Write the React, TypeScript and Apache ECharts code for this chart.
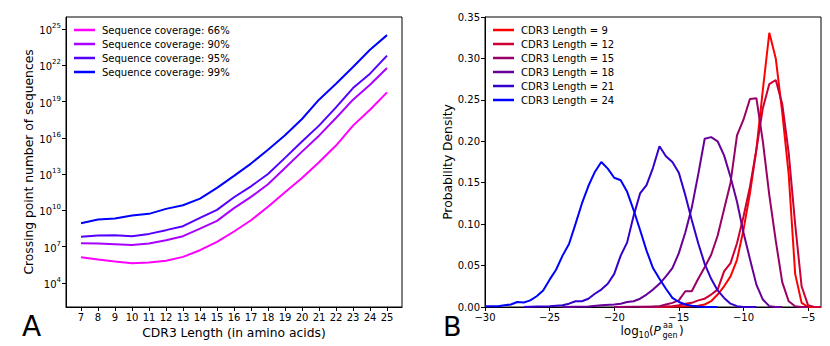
import React, { useEffect, useRef } from "react";
import * as echarts from "echarts";

// ---------- Panel A data (log10 of crossing point number of sequences) ----------
const cdr3Lengths = [7, 8, 9, 10, 11, 12, 13, 14, 15, 16, 17, 18, 19, 20, 21, 22, 23, 24, 25];
const log10Cov66 = [6.12, 5.93, 5.77, 5.63, 5.68, 5.82, 6.15, 6.7, 7.39, 8.25, 9.18, 10.29, 11.5, 12.68, 13.98, 15.36, 17.01, 18.33, 19.76];
const log10Cov90 = [7.28, 7.25, 7.2, 7.14, 7.25, 7.53, 7.86, 8.49, 9.13, 10.18, 11.11, 12.16, 13.51, 14.86, 16.18, 17.64, 19.16, 20.4, 21.78];
const log10Cov95 = [7.81, 7.92, 7.94, 7.86, 8.05, 8.36, 8.69, 9.38, 10.04, 11.08, 11.99, 13.01, 14.34, 15.69, 17.01, 18.52, 20.12, 21.31, 22.8];
const log10Cov99 = [8.93, 9.24, 9.32, 9.57, 9.71, 10.12, 10.42, 10.97, 11.86, 12.85, 13.87, 15.02, 16.21, 17.56, 19.16, 20.48, 21.86, 23.29, 24.5];
const coverageLabels = ["Sequence coverage: 66%", "Sequence coverage: 90%", "Sequence coverage: 95%", "Sequence coverage: 99%"];
const coverageColors = ["#ff00ff", "#aa00ff", "#5500ff", "#0000ff"];
const exponentTicks = [4, 7, 10, 13, 16, 19, 22, 25];

// ---------- Panel B data: [log10(Pgen), density] ----------
const len9 = [[-17, 0], [-15, 0.0005], [-14.5, 0.0008], [-14, 0.001], [-13.5, 0.0015], [-13, 0.003], [-12.5, 0.007], [-12, 0.015], [-11.5, 0.025], [-11, 0.037], [-10.5, 0.057], [-10, 0.093], [-9.5, 0.137], [-9, 0.19], [-8.5, 0.262], [-8, 0.331], [-7.5, 0.3], [-7, 0.235], [-6.5, 0.16], [-6, 0.04], [-5.5, 0.005], [-5, 0], [-4, 0]];
const len12 = [[-18, 0], [-16, 0.0005], [-15.5, 0.001], [-15, 0.002], [-14.5, 0.004], [-14, 0.005], [-13.5, 0.008], [-13, 0.01], [-12.5, 0.015], [-12, 0.021], [-11.5, 0.043], [-11, 0.053], [-10.5, 0.077], [-10, 0.109], [-9.5, 0.145], [-9, 0.19], [-8.5, 0.24], [-8, 0.269], [-7.5, 0.274], [-7, 0.245], [-6.5, 0.186], [-6, 0.1], [-5.5, 0.025], [-5, 0.002], [-4.5, 0], [-4, 0]];
const len15 = [[-20, 0], [-17, 0.0005], [-16.5, 0.001], [-16, 0.003], [-15.5, 0.005], [-15, 0.008], [-14.5, 0.019], [-14, 0.019], [-13.5, 0.034], [-13, 0.048], [-12.5, 0.063], [-12, 0.086], [-11.5, 0.118], [-11, 0.15], [-10.5, 0.207], [-10, 0.226], [-9.5, 0.251], [-9, 0.252], [-8.5, 0.2], [-8, 0.135], [-7.5, 0.08], [-7, 0.03], [-6.5, 0.007], [-6, 0.001], [-5.5, 0], [-5, 0]];
const len18 = [[-24, 0], [-22, 0.0005], [-21, 0.002], [-20, 0.003], [-19.5, 0.004], [-19, 0.006], [-18.5, 0.007], [-18, 0.01], [-17.5, 0.015], [-17, 0.021], [-16.5, 0.028], [-16, 0.037], [-15.5, 0.047], [-15, 0.065], [-14.5, 0.09], [-14, 0.12], [-13.5, 0.16], [-13, 0.203], [-12.5, 0.205], [-12, 0.2], [-11.5, 0.183], [-11, 0.157], [-10.5, 0.127], [-10, 0.09], [-9.5, 0.058], [-9, 0.027], [-8.5, 0.009], [-8, 0.001], [-7.5, 0], [-7, 0]];
const len21 = [[-27, 0], [-26, 0.0005], [-25, 0.001], [-24.5, 0.0015], [-24, 0.002], [-23.5, 0.004], [-23, 0.007], [-22.5, 0.007], [-22, 0.01], [-21.5, 0.016], [-21, 0.021], [-20.5, 0.028], [-20, 0.04], [-19.5, 0.062], [-19, 0.078], [-18.5, 0.11], [-18, 0.137], [-17.5, 0.147], [-17, 0.168], [-16.5, 0.194], [-16, 0.182], [-15.5, 0.175], [-15, 0.162], [-14.5, 0.135], [-14, 0.105], [-13.5, 0.077], [-13, 0.052], [-12.5, 0.034], [-12, 0.02], [-11.5, 0.011], [-11, 0.004], [-10.5, 0.001], [-10, 0], [-9, 0]];
const len24 = [[-30, 0.001], [-29.5, 0.001], [-29, 0.001], [-28.5, 0.002], [-28, 0.003], [-27.5, 0.006], [-27, 0.0055], [-26.5, 0.008], [-26, 0.013], [-25.5, 0.02], [-25, 0.033], [-24.5, 0.045], [-24, 0.062], [-23.5, 0.076], [-23, 0.1], [-22.5, 0.125], [-22, 0.146], [-21.5, 0.163], [-21, 0.175], [-20.5, 0.167], [-20, 0.156], [-19.5, 0.153], [-19, 0.139], [-18.5, 0.117], [-18, 0.093], [-17.5, 0.068], [-17, 0.047], [-16.5, 0.034], [-16, 0.022], [-15.5, 0.011], [-15, 0.006], [-14.5, 0.003], [-14, 0.0015], [-13.5, 0.0005], [-13, 0], [-12, 0]];
const lengthLabels = ["CDR3 Length = 9", "CDR3 Length = 12", "CDR3 Length = 15", "CDR3 Length = 18", "CDR3 Length = 21", "CDR3 Length = 24"];
const lengthColors = ["#ff0000", "#cc0033", "#990066", "#660099", "#3300cc", "#0000ff"];
const pgenTicks = [-30, -25, -20, -15, -10, -5];

const FONT = "DejaVu Sans";

export default function App() {
  const ref = useRef<HTMLDivElement>(null);
  useEffect(() => {
    if (!ref.current) return;
    const chart = echarts.init(ref.current, undefined, { renderer: "svg" });
    const covSeries = [log10Cov66, log10Cov90, log10Cov95, log10Cov99];
    const lenSeries = [len9, len12, len15, len18, len21, len24];
    const axisCommon = {
      axisLine: { show: true, onZero: false, lineStyle: { color: "#000", width: 1 } },
      splitLine: { show: false },
      nameTextStyle: { fontSize: 12.3, color: "#000", fontFamily: FONT },
    };
    const sub = { fontFamily: FONT, fill: "#000", align: "left", verticalAlign: "middle", textAlign: "left", textVerticalAlign: "middle" };
    const option: any = {
      animation: false,
      backgroundColor: "#fff",
      textStyle: { fontFamily: FONT },
      grid: [
        { left: 66, top: 17, width: 336, height: 290, show: true, borderColor: "#000", borderWidth: 1 },
        { left: 485, top: 17, width: 336, height: 290, show: true, borderColor: "#000", borderWidth: 1 },
      ],
      xAxis: [
        {
          ...axisCommon,
          gridIndex: 0,
          type: "value",
          min: 6.118,
          max: 25.882,
          axisTick: { show: true, length: 4, customValues: cdr3Lengths, lineStyle: { color: "#000" } },
          axisLabel: { customValues: cdr3Lengths, fontSize: 10, color: "#000", margin: 5 },
          name: "CDR3 Length (in amino acids)",
          nameLocation: "middle",
          nameGap: 15,
        },
        {
          ...axisCommon,
          gridIndex: 1,
          type: "value",
          min: -30,
          max: -4,
          axisTick: { show: true, length: 4, customValues: pgenTicks, lineStyle: { color: "#000" } },
          axisLabel: {
            customValues: pgenTicks,
            fontSize: 10,
            color: "#000",
            margin: 5,
            formatter: (v: number) => String(v).replace("-", "\u2212"),
          },
        },
      ],
      yAxis: [
        {
          ...axisCommon,
          gridIndex: 0,
          type: "value",
          min: 2,
          max: 26,
          axisTick: { show: true, length: 4, customValues: exponentTicks, lineStyle: { color: "#000" } },
          axisLabel: {
            customValues: exponentTicks,
            margin: 5,
            formatter: (v: number) => `{b|10}{s|${v}}`,
            rich: {
              b: { fontSize: 10, color: "#000", fontFamily: FONT, verticalAlign: "bottom", lineHeight: 13 },
              s: { fontSize: 7, color: "#000", fontFamily: FONT, verticalAlign: "top", lineHeight: 13 },
            },
          },
          name: "Crossing point number of sequences",
          nameLocation: "middle",
          nameGap: 28,
        },
        {
          ...axisCommon,
          gridIndex: 1,
          type: "value",
          min: 0,
          max: 0.35,
          interval: 0.05,
          axisTick: { show: true, length: 4, lineStyle: { color: "#000" } },
          axisLabel: { fontSize: 10, color: "#000", margin: 5, formatter: (v: number) => v.toFixed(2) },
          name: "Probability Density",
          nameLocation: "middle",
          nameGap: 28,
        },
      ],
      legend: [
        {
          data: coverageLabels,
          left: 74,
          top: 24,
          orient: "vertical",
          icon: "rect",
          itemWidth: 21,
          itemHeight: 2.5,
          itemGap: 2,
          padding: 0,
          textStyle: { fontSize: 10, color: "#000", lineHeight: 12, padding: [0, 0, 0, 2] },
        },
        {
          data: lengthLabels,
          left: 493,
          top: 24,
          orient: "vertical",
          icon: "rect",
          itemWidth: 21,
          itemHeight: 2.5,
          itemGap: 2,
          padding: 0,
          textStyle: { fontSize: 10, color: "#000", lineHeight: 12, padding: [0, 0, 0, 2] },
        },
      ],
      series: [
        ...covSeries.map((arr, i) => ({
          type: "line",
          name: coverageLabels[i],
          xAxisIndex: 0,
          yAxisIndex: 0,
          data: cdr3Lengths.map((x, j) => [x, arr[j]]),
          symbol: "none",
          color: coverageColors[i],
          lineStyle: { width: 2, color: coverageColors[i] },
        })),
        ...lenSeries.map((arr, i) => ({
          type: "line",
          name: lengthLabels[i],
          xAxisIndex: 1,
          yAxisIndex: 1,
          data: arr,
          symbol: "none",
          clip: false,
          color: lengthColors[i],
          lineStyle: { width: 2, color: lengthColors[i] },
        })),
      ],
      graphic: [
        { type: "text", left: 22, top: 312, style: { text: "A", fontSize: 28, fontFamily: FONT, fill: "#000" } },
        { type: "text", left: 443, top: 313, style: { text: "B", fontSize: 27, fontFamily: FONT, fill: "#000" } },
        {
          type: "group",
          children: [
            { type: "text", x: 620.5, y: 330.5, style: { ...sub, text: "log", fontSize: 12 } },
            { type: "text", x: 638.5, y: 334.5, style: { ...sub, text: "10", fontSize: 8.5 } },
            { type: "text", x: 649, y: 330.5, style: { ...sub, text: "(", fontSize: 12 } },
            { type: "text", x: 653.5, y: 330.5, style: { ...sub, text: "P", fontSize: 12, fontStyle: "italic" } },
            { type: "text", x: 663, y: 325.5, style: { ...sub, text: "aa", fontSize: 8 } },
            { type: "text", x: 662.5, y: 335.8, style: { ...sub, text: "gen", fontSize: 8 } },
            { type: "text", x: 679, y: 330.5, style: { ...sub, text: ")", fontSize: 12 } },
          ],
        },
      ],
    };
    chart.setOption(option);
    return () => chart.dispose();
  }, []);
  return (
    <div
      ref={ref}
      style={{ position: "absolute", left: 0, top: 0, width: 830, height: 346, background: "#fff" }}
    />
  );
}
